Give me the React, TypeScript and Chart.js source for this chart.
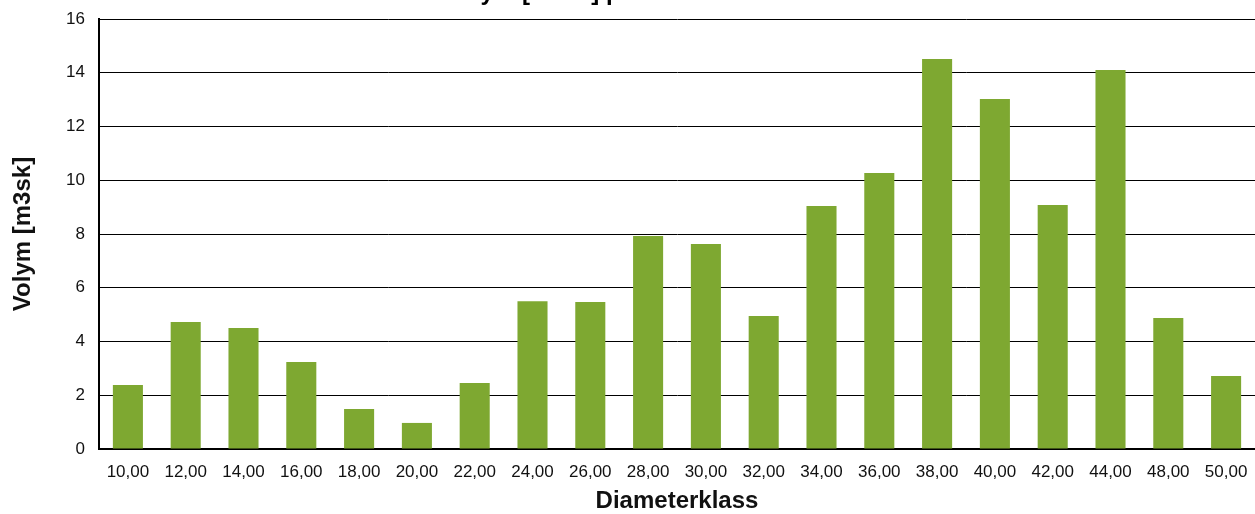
import React, { useEffect, useRef } from "react";
import { Chart, registerables } from "chart.js";

Chart.register(...registerables);

const chartTitle = "Volym [m3sk] per diameterklass";
const xTitle = "Diameterklass";
const yTitle = "Volym [m3sk]";
const categories = [
  "10,00", "12,00", "14,00", "16,00", "18,00", "20,00", "22,00", "24,00", "26,00", "28,00",
  "30,00", "32,00", "34,00", "36,00", "38,00", "40,00", "42,00", "44,00", "48,00", "50,00",
];
const volumes = [
  2.38, 4.73, 4.5, 3.24, 1.49, 0.97, 2.46, 5.5, 5.47, 7.93,
  7.63, 4.95, 9.04, 10.27, 14.51, 13.02, 9.08, 14.1, 4.87, 2.72,
];
const yMin = 0;
const yMax = 16;
const yStep = 2;

const titlePlugin = {
  id: "cutTitle",
  afterDraw(chart: any) {
    const ctx = chart.ctx;
    ctx.save();
    ctx.font = "bold 24px Arial, 'Liberation Sans', sans-serif";
    ctx.fillStyle = "#000";
    ctx.textAlign = "center";
    ctx.textBaseline = "alphabetic";
    ctx.fillText(chartTitle, chart.width / 2, 0);
    ctx.restore();
  },
};

export default function App() {
  const ref = useRef<HTMLCanvasElement | null>(null);
  useEffect(() => {
    if (!ref.current) return;
    const chart = new Chart(ref.current, {
      type: "bar",
      data: {
        labels: categories,
        datasets: [
          {
            data: volumes,
            backgroundColor: "#7EA831",
            borderWidth: 0,
            barPercentage: 0.52,
            categoryPercentage: 1,
          },
        ],
      },
      options: {
        responsive: false,
        animation: false,
        layout: { padding: { top: 19, left: 0, right: 0, bottom: 0 } },
        plugins: {
          legend: { display: false },
          title: { display: false },
          tooltip: { enabled: false },
        },
        scales: {
          x: {
            grid: {
              display: true,
              color: "rgba(0,0,0,0)",
              drawTicks: true,
              tickLength: 13,
              tickColor: "rgba(0,0,0,0)",
            },
            border: { display: true, color: "#000", width: 2 },
            ticks: {
              autoSkip: false,
              maxRotation: 0,
              padding: 0,
              color: "#111",
              font: { family: "Arial, 'Liberation Sans', sans-serif", size: 17 },
            },
            title: {
              display: true,
              text: xTitle,
              color: "#111",
              padding: { top: 0, bottom: -2 },
              font: { family: "Arial, 'Liberation Sans', sans-serif", size: 24, weight: "bold" },
            },
            afterFit(scale: any) {
              scale.height = 65;
            },
          },
          y: {
            min: yMin,
            max: yMax,
            grid: {
              color: "#000",
              lineWidth: 1,
              drawTicks: true,
              tickLength: 14,
              tickColor: "rgba(0,0,0,0)",
            },
            border: { display: true, color: "#000", width: 2 },
            ticks: {
              stepSize: yStep,
              padding: 0,
              color: "#111",
              font: { family: "Arial, 'Liberation Sans', sans-serif", size: 17 },
            },
            title: {
              display: true,
              text: yTitle,
              color: "#111",
              padding: { top: 9, bottom: 0 },
              font: { family: "Arial, 'Liberation Sans', sans-serif", size: 24, weight: "bold" },
            },
            afterFit(scale: any) {
              scale.width = 99;
            },
          },
        },
      },
      plugins: [titlePlugin],
    });
    return () => chart.destroy();
  }, []);
  return (
    <div style={{ position: "absolute", left: 0, top: 0, width: 1255, height: 514, background: "#fff" }}>
      <canvas ref={ref} width={1255} height={514} />
    </div>
  );
}
